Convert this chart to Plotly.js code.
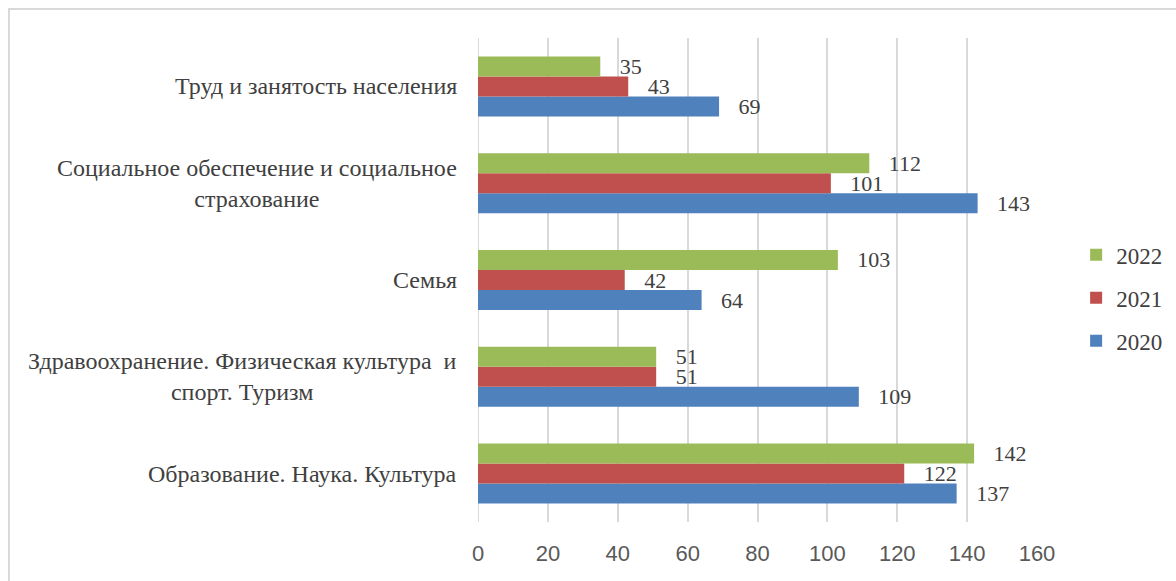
<!DOCTYPE html>
<html><head><meta charset="utf-8">
<script src="https://cdn.plot.ly/plotly-3.0.1.min.js"></script>
<style>
html,body{margin:0;padding:0;background:#fff;}
#frame{position:absolute;left:8px;top:8px;width:1180px;height:600px;border-left:2px solid #d9d9d9;border-top:2px solid #d9d9d9;box-sizing:border-box;pointer-events:none;z-index:5;}
#chart{width:1176px;height:581px;}
</style></head>
<body>
<div id="frame"></div>
<div id="chart"></div>
<script>
const categories = [
  "Образование. Наука. Культура",
  "Здравоохранение. Физическая культура  и<br>спорт. Туризм",
  "Семья",
  "Социальное обеспечение и социальное<br>страхование",
  "Труд и занятость населения"
];
const seriesNames = ["2020", "2021", "2022"];
const values2020 = [137, 109, 64, 143, 69];
const values2021 = [122, 51, 42, 101, 43];
const values2022 = [142, 51, 103, 112, 35];
const xTicks = [0, 20, 40, 60, 80, 100, 120, 140, 160];

const colors = ["#4F81BD", "#C0504D", "#9BBB59"];
const allValues = [values2020, values2021, values2022];
const SERIF = "Liberation Serif";
const labelFont = {family: SERIF, size: 22, color: "#404040"};

const traces = allValues.map((vals, i) => ({
  type: "bar",
  orientation: "h",
  name: seriesNames[i],
  legendgroup: seriesNames[i],
  legendrank: 10 - i,
  y: categories,
  x: vals,
  marker: {color: colors[i]},
  text: vals.map(v => String(v)),
  texttemplate: "\u00a0\u00a0\u00a0%{text}",
  textposition: "outside",
  constraintext: "none",
  textfont: labelFont,
  cliponaxis: false,
  hoverinfo: "x+name"
}));

const annotations = categories.map(c => ({
  xref: "paper", yref: "y",
  x: 0, y: c,
  xanchor: "right", yanchor: "middle",
  xshift: -19,
  align: "center",
  text: c,
  showarrow: false,
  font: {family: SERIF, size: 24, color: "#404040"}
}));

const layout = {
  width: 1176, height: 581,
  margin: {l: 478, r: 139, t: 38, b: 59, pad: 0, autoexpand: false},
  paper_bgcolor: "#fff", plot_bgcolor: "#fff",
  barmode: "group",
  bargap: 0.38,
  bargroupgap: 0,
  showlegend: true,
  legend: {
    x: 1.07, xanchor: "left", y: 0.463, yanchor: "middle",
    traceorder: "grouped",
    tracegroupgap: 10,
    font: {family: SERIF, size: 23, color: "#404040"},
    itemwidth: 30
  },
  xaxis: {
    range: [0, 160],
    tickvals: xTicks,
    ticktext: xTicks.map(String),
    showgrid: true, gridcolor: "#d9d9d9", gridwidth: 2,
    zeroline: false, showline: false,
    ticks: "outside", ticklen: 12, tickcolor: "rgba(0,0,0,0)",
    tickfont: {family: "Liberation Sans", size: 22, color: "#595959"},
    fixedrange: true
  },
  yaxis: {
    categoryorder: "array", categoryarray: categories,
    showticklabels: false, showgrid: false, zeroline: false, showline: false,
    ticks: "", fixedrange: true
  },
  annotations: annotations,
  shapes: [{
    type: "line", xref: "x", yref: "paper", x0: 0, x1: 0, y0: 0, y1: 1,
    line: {color: "#d9d9d9", width: 2}, layer: "below"
  }]
};

Plotly.newPlot("chart", traces, layout, {displayModeBar: false, staticPlot: true});
</script>
</body></html>
